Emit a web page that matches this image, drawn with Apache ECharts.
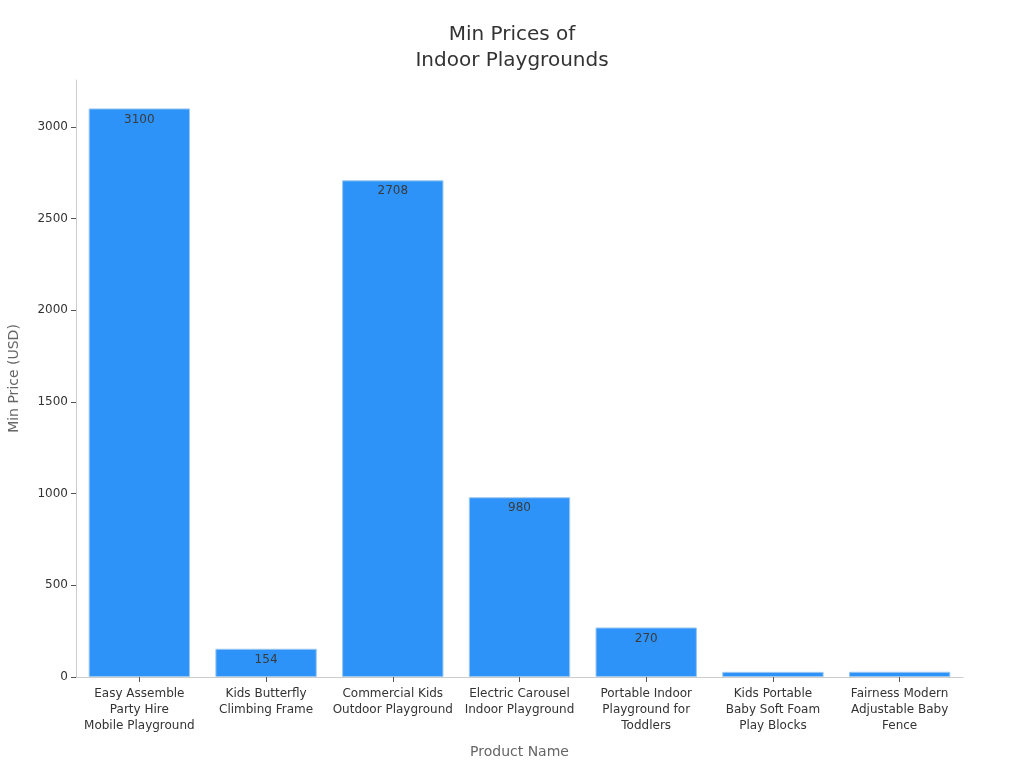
<!DOCTYPE html>
<html>
<head>
<meta charset="utf-8">
<script src="https://cdn.jsdelivr.net/npm/echarts@6/dist/echarts.min.js"></script>
<style>html,body{margin:0;padding:0;background:#fff}#c{width:1024px;height:768px}</style>
</head>
<body>
<div id="c"></div>
<script>
const categories = [
  "Easy Assemble\nParty Hire\nMobile Playground",
  "Kids Butterfly\nClimbing Frame",
  "Commercial Kids\nOutdoor Playground",
  "Electric Carousel\nIndoor Playground",
  "Portable Indoor\nPlayground for\nToddlers",
  "Kids Portable\nBaby Soft Foam\nPlay Blocks",
  "Fairness Modern\nAdjustable Baby\nFence"
];
const minPrices = [3100, 154, 2708, 980, 270, 28, 28.5];
const yTicks = [0, 500, 1000, 1500, 2000, 2500, 3000];

const chart = echarts.init(document.getElementById('c'));
const font = 'DejaVu Sans';
chart.setOption({
  animation: false,
  textStyle: { fontFamily: font },
  title: {
    text: 'Min Prices of\nIndoor Playgrounds',
    left: 'center', top: 17,
    textStyle: { fontFamily: font, fontSize: 20, fontWeight: 'normal', color: '#333', lineHeight: 26 }
  },
  grid: { left: 76, right: 61, top: 80, bottom: 91, containLabel: false, outerBoundsMode: 'none' },
  xAxis: {
    type: 'category',
    data: categories,
    name: 'Product Name',
    nameLocation: 'middle',
    nameGap: 68,
    nameTextStyle: { fontFamily: font, fontSize: 14, color: '#666' },
    axisLine: { lineStyle: { color: '#ccc' } },
    axisTick: { show: true, alignWithLabel: true, length: 5, lineStyle: { color: '#555' } },
    axisLabel: { fontFamily: font, fontSize: 12, color: '#333', lineHeight: 16, margin: 9, interval: 0 }
  },
  yAxis: {
    type: 'value',
    min: 0, max: 3255, interval: 500,
    name: 'Min Price (USD)',
    nameLocation: 'middle',
    nameGap: 55,
    nameTextStyle: { fontFamily: font, fontSize: 14, color: '#666' },
    axisLine: { show: true, lineStyle: { color: '#ccc' } },
    axisTick: { show: true, length: 5, lineStyle: { color: '#555' } },
    splitLine: { show: false },
    axisLabel: {
      fontFamily: font, fontSize: 12, color: '#333', margin: 8,
      showMaxLabel: false,
      formatter: v => yTicks.includes(v) ? String(v) : ''
    }
  },
  series: [{
    type: 'bar',
    data: minPrices,
    barCategoryGap: '20%',
    itemStyle: { color: '#2E93F9', borderColor: '#9cc8f0', borderWidth: 1 },
    label: {
      show: true, position: 'insideTop', distance: 5,
      fontFamily: font, fontSize: 12, color: '#3a3a3a',
      formatter: p => (p.value < 50 ? '' : String(p.value))
    }
  }]
});
</script>
</body>
</html>
